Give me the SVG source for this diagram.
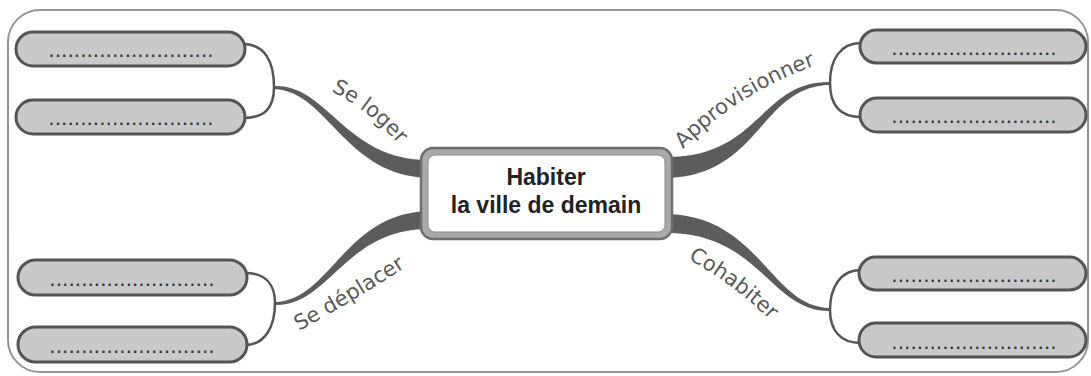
<svg xmlns="http://www.w3.org/2000/svg" width="1091" height="376" viewBox="0 0 1091 376">
  <style>
    .frame { fill: #ffffff; stroke: #959595; stroke-width: 2; }
    .leaf { fill: #c9c9c9; stroke: #555555; stroke-width: 3; }
    .dots { font-family: "DejaVu Sans", sans-serif; font-size: 20px; fill: #333333; text-anchor: middle; }
    .bracket { fill: none; stroke: #555555; stroke-width: 2.5; }
    .trunk { fill: #5c5c5c; stroke: none; }
    .lbl { font-family: "DejaVu Sans", sans-serif; font-size: 21px; fill: #5a5a5a; }
    .title { font-family: "Liberation Sans", Arial, sans-serif; font-size: 23px; font-weight: bold; fill: #222222; text-anchor: middle; }
  </style>
  <defs>
    <path id="p-loger" d="M331,91 Q372,112 402,148"/>
    <path id="p-appro" d="M683,149 Q738,92 822,63"/>
    <path id="p-depl" d="M299,331 Q352,302 412,263"/>
    <path id="p-cohab" d="M688,259 Q732,283 770,320"/>
  </defs>

  <rect class="frame" x="8" y="10" width="1080" height="362" rx="32"/>

  <g id="connectors">
    <!-- trunks -->
    <path class="trunk" d="M274,86 C328,84 345,161 430,160 L430,178 C345,177 328,91 274,89 Z"/>
    <path class="trunk" d="M430,211 C345,212 330,301 275,302 L275,305 C330,306 345,228 430,229 Z"/>
    <path class="trunk" d="M665,157 C760,158 760,81 830,82 L830,85 C760,86 760,177 665,178 Z"/>
    <path class="trunk" d="M665,214 C760,215 770,307 830,308 L830,311 C770,312 760,232 665,233 Z"/>
    <!-- brackets -->
    <path class="bracket" d="M243,44 C265,44 274,62 274,87 C274,108 265,118 243,118"/>
    <path class="bracket" d="M245,273 C266,273 275,285 275,303 C275,325 266,345 245,345"/>
    <path class="bracket" d="M861,43 C840,43 830,60 830,83 C830,105 840,117 861,117"/>
    <path class="bracket" d="M861,270 C840,270 830,288 830,310 C830,330 840,343 861,343"/>
    <!-- labels -->
    <text class="lbl"><textPath href="#p-loger">Se loger</textPath></text>
    <text class="lbl"><textPath href="#p-appro">Approvisionner</textPath></text>
    <text class="lbl"><textPath href="#p-depl">Se déplacer</textPath></text>
    <text class="lbl"><textPath href="#p-cohab">Cohabiter</textPath></text>
  </g>

  <g id="center">
    <rect x="421" y="148" width="251" height="91" rx="12" fill="#a9a9a9" stroke="#6e6e6e" stroke-width="2.5"/>
    <rect x="428" y="155" width="237" height="77" rx="7" fill="#ffffff" stroke="#8a8a8a" stroke-width="1"/>
    <text class="title" x="546" y="185">Habiter</text>
    <text class="title" x="546" y="213">la ville de demain</text>
  </g>

  <g id="leaf-l1">
    <rect class="leaf" x="16" y="32" width="229" height="34" rx="17"/>
    <text class="dots" x="131" y="57">..........................</text>
  </g>
  <g id="leaf-l2">
    <rect class="leaf" x="16" y="100" width="229" height="34" rx="17"/>
    <text class="dots" x="131" y="125">..........................</text>
  </g>
  <g id="leaf-l3">
    <rect class="leaf" x="18" y="260" width="229" height="35" rx="17.5"/>
    <text class="dots" x="132" y="286">..........................</text>
  </g>
  <g id="leaf-l4">
    <rect class="leaf" x="18" y="327" width="229" height="35" rx="17.5"/>
    <text class="dots" x="132" y="353">..........................</text>
  </g>
  <g id="leaf-r1">
    <rect class="leaf" x="860" y="30" width="226" height="33" rx="16.5"/>
    <text class="dots" x="974" y="55">..........................</text>
  </g>
  <g id="leaf-r2">
    <rect class="leaf" x="860" y="98" width="226" height="34" rx="17"/>
    <text class="dots" x="974" y="123">..........................</text>
  </g>
  <g id="leaf-r3">
    <rect class="leaf" x="859" y="257" width="227" height="33" rx="16.5"/>
    <text class="dots" x="974" y="282">..........................</text>
  </g>
  <g id="leaf-r4">
    <rect class="leaf" x="859" y="323" width="227" height="34" rx="17"/>
    <text class="dots" x="974" y="349">..........................</text>
  </g>
</svg>
